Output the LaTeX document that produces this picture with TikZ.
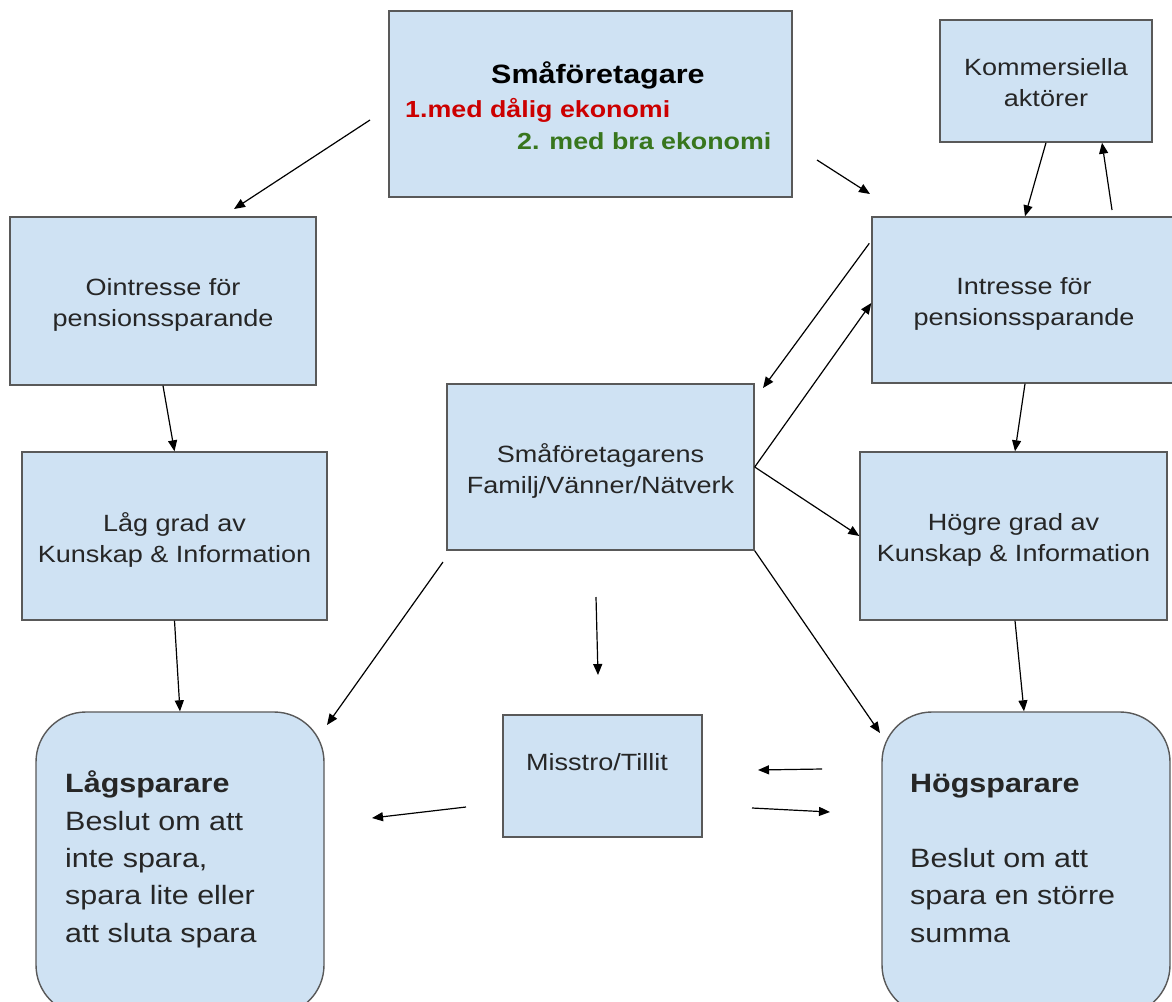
\documentclass[tikz,border=0pt]{standalone}
\usepackage{fontspec}
\setmainfont[FakeStretch=1.15]{Liberation Sans}
\usetikzlibrary{arrows.meta}
\definecolor{boxfill}{HTML}{CFE2F3}
\definecolor{boxline}{HTML}{595959}
\definecolor{txt}{HTML}{262626}
\definecolor{redt}{HTML}{CC0000}
\definecolor{greent}{HTML}{38761D}
\begin{document}
\begin{tikzpicture}[x=1pt,y=-1pt,
  box/.style={draw=boxline, fill=boxfill, line width=1.4pt, inner sep=0pt},
  lab/.style={align=center, text=txt, inner sep=0pt, yshift=-4pt, font=\fontsize{23.5}{31}\selectfont},
  rbox/.style={box, rounded corners=50pt},
  arr/.style={-{Triangle[length=11pt,width=9pt]}, line width=1.2pt, black},
  bigtxt/.style={text=txt, inner sep=0pt, anchor=base west, font=\fontsize{26.5}{37.5}\selectfont},
  toptxt/.style={inner sep=0pt, anchor=base west, font=\fontsize{23.3}{31}\selectfont\bfseries},
  plain/.style={text=txt, inner sep=0pt, anchor=base west, font=\fontsize{23.5}{31}\selectfont}
  ]
\useasboundingbox (0,0) rectangle (1172,1001);
\fill[white] (0,0) rectangle (1172,1001);

% boxes
\node[box, minimum width=403pt, minimum height=186pt] (top) at (590.5,104) {};
\node[box, minimum width=212pt, minimum height=122pt, label={[lab, yshift=2pt]center:{Kommersiella\\aktörer}}] (komm) at (1046,81) {};
\node[box, minimum width=306pt, minimum height=168pt, label={[lab]center:{Ointresse för\\pensionssparande}}] (oint) at (163,301) {};
\node[box, minimum width=304pt, minimum height=166pt, label={[lab]center:{Intresse för\\pensionssparande}}] (intr) at (1024,300) {};
\node[box, minimum width=307pt, minimum height=166pt, label={[lab]center:{Småföretagarens\\Familj/Vänner/Nätverk}}] (fam) at (600.5,467) {};
\node[box, minimum width=305pt, minimum height=168pt, label={[lab]center:{Låg grad av\\Kunskap \& Information}}] (lag) at (174.5,536) {};
\node[box, minimum width=307pt, minimum height=168pt, label={[lab]center:{Högre grad av\\Kunskap \& Information}}] (hog) at (1013.5,536) {};
\node[box, minimum width=199pt, minimum height=122pt] (miss) at (602.5,776) {};
\node[rbox, minimum width=288pt, minimum height=303pt] (lags) at (180,863.5) {};
\node[rbox, minimum width=288pt, minimum height=303pt] (hogs) at (1026,863.5) {};

% texts
\node[toptxt, text=black, font=\fontsize{26.5}{31}\selectfont\bfseries] (t1) at (491,83) {Småföretagare};
\node[toptxt, text=redt] (t2) at (405,117) {1.med dålig ekonomi};
\node[toptxt, text=greent] (t3) at (517,149) {2. med bra ekonomi};
\node[plain] (tm) at (526,770) {Misstro/Tillit};

\node[bigtxt, font=\fontsize{26.5}{37.5}\selectfont\bfseries] (l1) at (65,792) {Lågsparare};
\node[bigtxt] (l2) at (65,830) {Beslut om att};
\node[bigtxt] (l3) at (65,867) {inte spara,};
\node[bigtxt] (l4) at (65,904) {spara lite eller};
\node[bigtxt] (l5) at (65,942) {att sluta spara};

\node[bigtxt, font=\fontsize{26.5}{37.5}\selectfont\bfseries] (h1) at (910,792) {Högsparare};
\node[bigtxt] (h2) at (910,867) {Beslut om att};
\node[bigtxt] (h3) at (910,904) {spara en större};
\node[bigtxt] (h4) at (910,942) {summa};

% free ends
\coordinate (a1s) at (370,120); \coordinate (a1e) at (234,209);
\coordinate (a2s) at (817,160); \coordinate (a2e) at (870,194);
\coordinate (a4s) at (1112,210);
\coordinate (a5e) at (763,388);
\coordinate (a11s) at (443,562); \coordinate (a11e) at (327,725);
\coordinate (a12s) at (596,597); \coordinate (a12e) at (598,675);
\coordinate (a13e) at (880,733);
\coordinate (a15s) at (822,769); \coordinate (a15e) at (758,770);
\coordinate (a16s) at (752,808); \coordinate (a16e) at (830,812);
\coordinate (a17s) at (466,807); \coordinate (a17e) at (372,818);

% arrows
\draw[arr] (a1s) -- (a1e);
\draw[arr] (a2s) -- (a2e);
\draw[arr] (komm.south) -- ([xshift=1pt]intr.north);
\draw[arr] (a4s) -- ([xshift=56pt]komm.south);
\draw[arr] ([yshift=-27pt,xshift=-2pt]intr.north west) -- (a5e);
\draw[arr] (fam.east) -- ([yshift=-3pt]intr.west);
\draw[arr] (fam.east) -- (hog.west);
\draw[arr] ([xshift=1pt]intr.south) -- ([xshift=1.5pt]hog.north);
\draw[arr] (oint.south) -- (lag.north);
\draw[arr] (lag.south) -- (lags.north);
\draw[arr] (a11s) -- (a11e);
\draw[arr] (a12s) -- (a12e);
\draw[arr] (fam.south east) -- (a13e);
\draw[arr] ([xshift=1.5pt]hog.south) -- ([xshift=-2pt]hogs.north);
\draw[arr] (a15s) -- (a15e);
\draw[arr] (a16s) -- (a16e);
\draw[arr] (a17s) -- (a17e);
\end{tikzpicture}
\end{document}
